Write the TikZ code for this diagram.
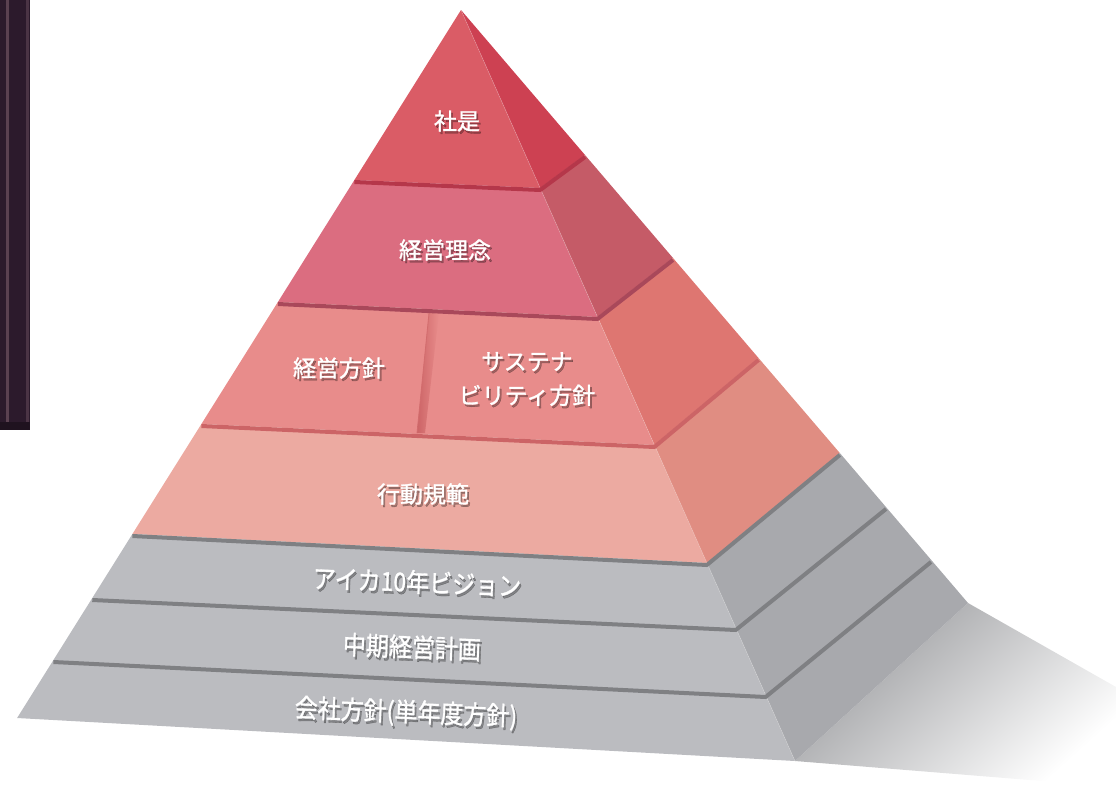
\documentclass[tikz,border=0pt]{standalone}
\usepackage{fontspec}
\newfontfamily\jp[FakeBold=1.2]{Noto Sans CJK JP}
\definecolor{fA}{HTML}{DA5C66}\definecolor{rA}{HTML}{CD4152}\definecolor{bA}{HTML}{B5374A}
\definecolor{fB}{HTML}{DB6D80}\definecolor{rB}{HTML}{C55B67}\definecolor{bB}{HTML}{A9485A}
\definecolor{fC}{HTML}{E88C8B}\definecolor{rC}{HTML}{DE7671}\definecolor{bC}{HTML}{CC6466}
\definecolor{fD}{HTML}{ECAAA1}\definecolor{rD}{HTML}{E08D82}
\definecolor{fG}{HTML}{BBBCC0}\definecolor{rG}{HTML}{A8A9AD}\definecolor{bG}{HTML}{7F8083}
\definecolor{barc}{HTML}{2C1A2C}\definecolor{bars}{HTML}{7A5A6A}
\definecolor{shadc}{HTML}{999A9D}
\newcommand\pyrlabel[4]{%
  \node[shd,#3,xshift=1.8pt,yshift=-2.4pt,opacity=0.3] at (#2) {#4};
  \node[lbl,#3] (#1) at (#2) {#4};}
\begin{document}
\begin{tikzpicture}[x=1pt,y=-1pt,
  lbl/.style={text=white,font=\jp\fontsize{23}{34}\selectfont,align=center,inner sep=0pt},
  shd/.style={lbl,text=black},
  graylbl/.style={font=\jp\fontsize{23}{30}\selectfont,yscale=1.12,rotate=-2},
  band/.style={line width=4pt,line join=round},
  face/.style={line width=0.3pt,line join=round}]
\useasboundingbox (0,0) rectangle (1116,787);
% left dark bar
\fill[barc] (0,0) rectangle (30,430);
\fill[bars!60!barc] (6,0) rectangle (9,428);
\fill[bars!40!barc] (26,0) rectangle (29,428);
\fill[barc!70!black] (0,422) rectangle (30,430);
% coordinates
\coordinate (A) at (461,10);
\coordinate (L1) at (354.4,180); \coordinate (G1) at (540.2,188); \coordinate (S1) at (585,155);
\coordinate (L2) at (277.9,302); \coordinate (G2) at (597.5,317); \coordinate (S2) at (673,258);
\coordinate (L3) at (201.4,424); \coordinate (G3) at (654.4,445); \coordinate (S3) at (758.5,358);
\coordinate (L4) at (132.4,534); \coordinate (G4) at (706.9,563); \coordinate (S4) at (839.8,453);
\coordinate (L5) at (92.3,598);  \coordinate (G5) at (735.8,628); \coordinate (S5) at (886,507);
\coordinate (L6) at (53.4,660);  \coordinate (G6) at (765.6,695); \coordinate (S6) at (931,560);
\coordinate (L7) at (17.1,718);  \coordinate (G7) at (795,761);   \coordinate (S7) at (968,603);
\coordinate (H1) at (1116,687);  \coordinate (H2) at (1116,787);
% ground shadow
\shade[left color=shadc,right color=white,shading angle=42] (G7) -- (S7) -- (H1) -- (H2) -- cycle;
% faces
\fill[fA] (A) -- (L1) -- (G1) -- cycle;
\fill[rA] (A) -- (G1) -- (S1) -- cycle;
\fill[fB] (L1) -- (G1) -- (G2) -- (L2) -- cycle;
\fill[rB] (G1) -- (S1) -- (S2) -- (G2) -- cycle;
\fill[fC] (L2) -- (G2) -- (G3) -- (L3) -- cycle;
\fill[rC] (G2) -- (S2) -- (S3) -- (G3) -- cycle;
\fill[fD] (L3) -- (G3) -- (G4) -- (L4) -- cycle;
\fill[rD] (G3) -- (S3) -- (S4) -- (G4) -- cycle;
\fill[fG] (L4) -- (G4) -- (G7) -- (L7) -- cycle;
\fill[rG] (G4) -- (S4) -- (S7) -- (G7) -- cycle;
% ridge highlight
\draw[white,opacity=0.25,line width=0.6pt] (A) -- (G7);
% divider in layer 3
\coordinate (D1) at (429,313); \coordinate (D2) at (417,433);
\shade[left color=bC,right color=fC] (D1) -- (D2) -- (425,433) -- (439,313) -- cycle;
\draw[bC!80!fC,line width=0.8pt] (D1) -- (D2);
% bevel bands
\draw[band,bA] ([yshift=-2pt]L1) -- ([yshift=-2pt]G1) -- ([yshift=-2pt]S1);
\draw[band,bB] ([yshift=-2pt]L2) -- ([yshift=-2pt]G2) -- ([yshift=-2pt]S2);
\draw[band,bC] ([yshift=-2pt]L3) -- ([yshift=-2pt]G3) -- ([yshift=-2pt]S3);
\draw[band,bG] ([yshift=-2pt]L4) -- ([yshift=-2pt]G4) -- ([yshift=-2pt]S4);
\draw[band,bG] ([yshift=-2pt]L5) -- ([yshift=-2pt]G5) -- ([yshift=-2pt]S5);
\draw[band,bG] ([yshift=-2pt]L6) -- ([yshift=-2pt]G6) -- ([yshift=-2pt]S6);
% labels
\pyrlabel{t1}{457,121}{}{社是}
\pyrlabel{t2}{445,250}{}{経営理念}
\pyrlabel{t3a}{339,368}{}{経営方針}
\pyrlabel{t3b}{527,379}{}{サステナ\\ビリティ方針}
\pyrlabel{t4}{423,494}{}{行動規範}
\pyrlabel{t5}{417,582}{graylbl}{アイカ10年ビジョン}
\pyrlabel{t6}{412,647}{graylbl}{中期経営計画}
\pyrlabel{t7}{406,713}{graylbl}{会社方針(単年度方針)}
\end{tikzpicture}
\end{document}
